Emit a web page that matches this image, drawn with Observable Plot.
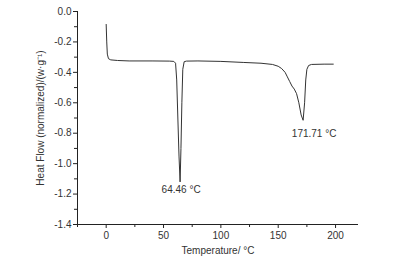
<!DOCTYPE html>
<html><head><meta charset="utf-8">
<script src="https://cdn.jsdelivr.net/npm/d3@7"></script>
<script src="https://cdn.jsdelivr.net/npm/@observablehq/plot@0.6"></script>
<style>body{margin:0;background:#fff;} svg{font-family:"Liberation Sans",Arial,sans-serif;}</style>
</head><body><div id="chart"></div>
<script>
const temps = [0,0.5,1,2,4,10,20,40,55,59,60.5,61.5,62.5,63.5,64.46,65.2,66,66.8,68,70,80,100,120,135,145,150,153,156,158,160,162,164,166,168,170,171.71,173,174,175,176.5,179,190,198];
const flows = [-0.085,-0.2,-0.28,-0.31,-0.318,-0.322,-0.325,-0.325,-0.326,-0.328,-0.34,-0.45,-0.7,-0.95,-1.12,-0.9,-0.6,-0.38,-0.33,-0.326,-0.325,-0.328,-0.335,-0.34,-0.348,-0.36,-0.375,-0.40,-0.43,-0.46,-0.49,-0.51,-0.54,-0.6,-0.68,-0.715,-0.6,-0.45,-0.38,-0.355,-0.348,-0.346,-0.346];
const peakTemps = [64.46, 171.71];
const peakFlows = [-1.12, -0.715];
const peakLabels = ["64.46 °C", "171.71 °C"];
const xTicks = [0,50,100,150,200];
const xMinor = [-25,25,75,125,175];
const yTicks = [0,-0.2,-0.4,-0.6,-0.8,-1.0,-1.2,-1.4];
const yMinor = [-0.1,-0.3,-0.5,-0.7,-0.9,-1.1,-1.3];

const data = temps.map((t,i)=>({t, f: flows[i]}));
const peaks = peakTemps.map((t,i)=>({t, f: peakFlows[i], label: peakLabels[i]}));

const chart = Plot.plot({
  width: 409, height: 265,
  marginLeft: 77, marginRight: 51, marginTop: 11, marginBottom: 41,
  style: {fontSize: "10px", color: "#333", background: "#fff"},
  x: {domain: [-25, 220]},
  y: {domain: [-1.4, 0]},
  marks: [
    Plot.axisX({ticks: xTicks, tickSize: 4, tickPadding: 3, label: null, tickFormat: d => String(d), stroke: "#222"}),
    Plot.axisX({ticks: xMinor, tickSize: 3, text: null, label: null, stroke: "#222"}),
    Plot.axisY({ticks: yTicks, tickSize: 4, tickPadding: 2, label: null, tickFormat: d => d.toFixed(1), stroke: "#222"}),
    Plot.axisY({ticks: yMinor, tickSize: 3, text: null, label: null, stroke: "#222"}),
    Plot.ruleY([-1.4], {stroke: "#222"}),
    Plot.ruleX([-25], {stroke: "#222"}),
    Plot.line(data, {x: "t", y: "f", stroke: "#333", strokeWidth: 1}),
    Plot.text([peaks[0]], {x: "t", y: "f", text: "label", dy: 4, dx: 1, fontSize: 10, fill: "#333", lineAnchor: "top"}),
    Plot.text([peaks[1]], {x: "t", y: "f", text: "label", dy: 10, dx: 11, fontSize: 10, fill: "#333", lineAnchor: "top"}),
    Plot.text(["Temperature/ °C"], {frameAnchor: "bottom", dy: 29, fontSize: 10, fill: "#333"}),
    Plot.text(["Heat Flow (normalized)/(w·g⁻¹)"], {frameAnchor: "left", textAnchor: "middle", dx: -37, rotate: -90, fontSize: 10, fill: "#333"})
  ]
});
document.getElementById("chart").append(chart);
</script></body></html>
